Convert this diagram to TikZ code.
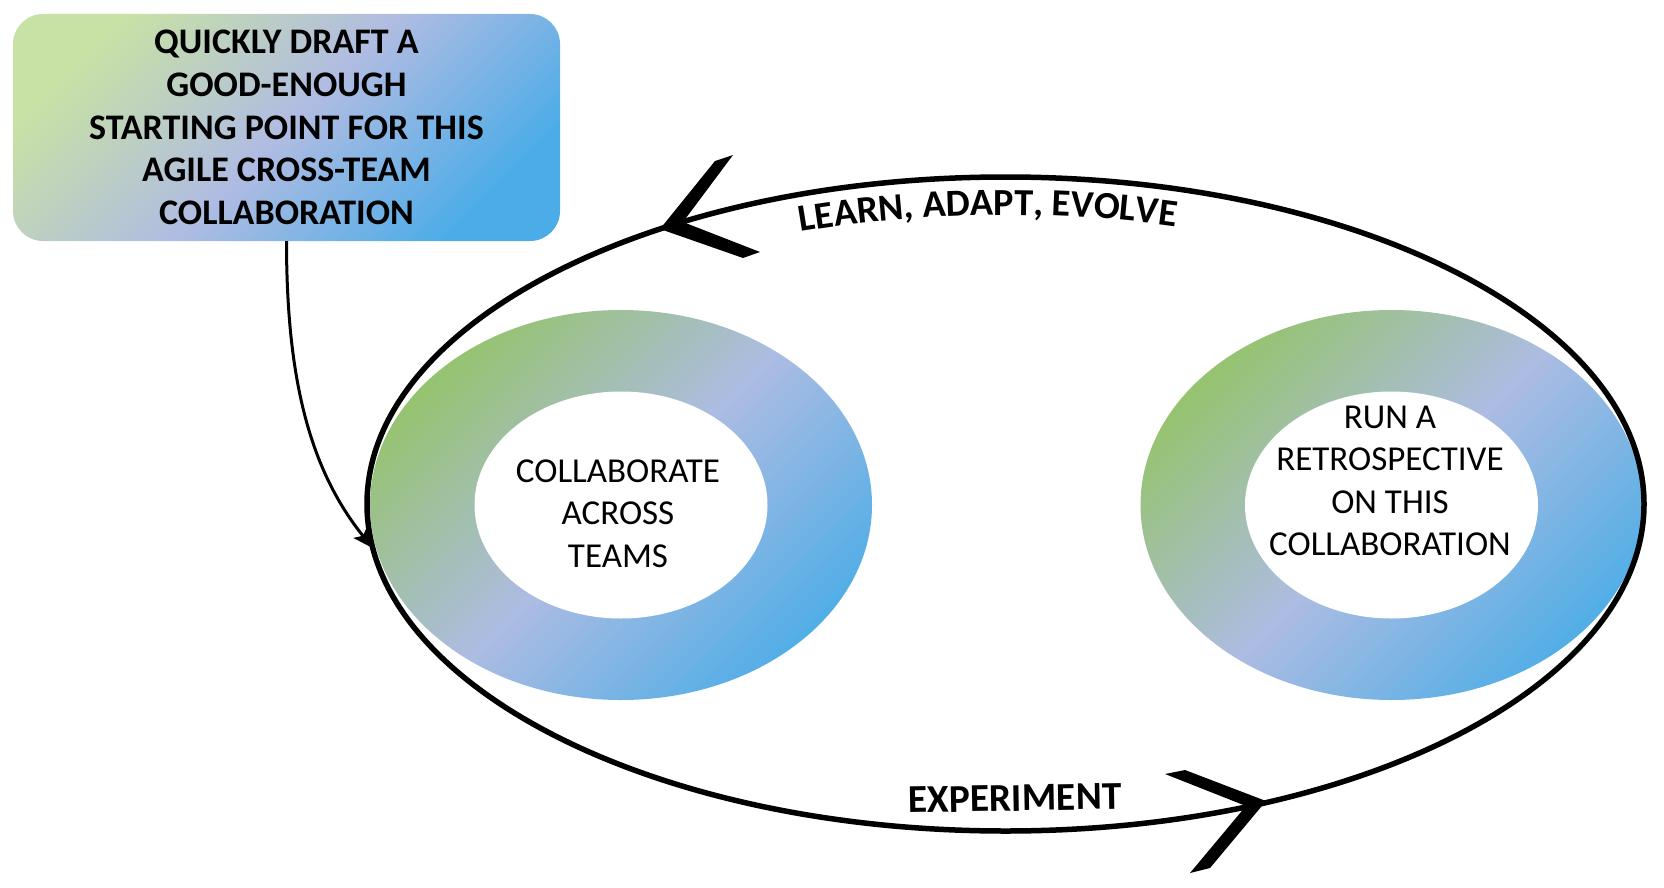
\documentclass[tikz,border=0pt]{standalone}
\usepackage{fontspec}
\setmainfont{Carlito}
\usetikzlibrary{shapes.geometric,arrows.meta,decorations.text}
\definecolor{gA}{RGB}{200,225,165}
\definecolor{gM}{RGB}{176,188,226}
\definecolor{gB}{RGB}{76,172,232}
\definecolor{rA}{RGB}{150,195,112}
\definecolor{rM}{RGB}{173,188,226}
\definecolor{rB}{RGB}{82,174,230}
\newcommand{\boxfont}{\bfseries\fontsize{36}{42.7}\selectfont}
\newcommand{\learnfont}{\bfseries\fontsize{38.3}{44}\selectfont}
\newcommand{\expfont}{\bfseries\fontsize{39.5}{44}\selectfont}
\begin{document}
\begin{tikzpicture}[x=1pt,y=1pt,
  startbox/.style={rounded corners=30pt, minimum width=547pt, minimum height=227pt, inner sep=0pt,
    top color=gA, bottom color=gB, middle color=gM, shading angle=45, align=center,
    font=\boxfont},
  ring/.style={ellipse, minimum width=502pt, minimum height=390pt, inner sep=0pt,
    top color=rA, bottom color=rB, middle color=rM, shading angle=45},
  hole/.style={ellipse, fill=white, minimum width=293pt, minimum height=227pt, inner sep=0pt},
  ringtext/.style={align=center, font=\fontsize{35}{42.5}\selectfont, inner sep=0pt},
  loopline/.style={ellipse, draw, line width=5.5pt, minimum width=1277pt, minimum height=654pt, inner sep=0pt, outer sep=0pt},
  head/.style={fill=black},
  conn/.style={line width=3pt, -{Stealth[length=20pt,width=17pt,inset=4pt]}},
  lbl/.style={font=\expfont, inner sep=0pt}
]
\useasboundingbox (0,0) rectangle (1664,-888);

% start box
\node[startbox] (box) at (286.5,-127.5) {QUICKLY DRAFT A\\GOOD-ENOUGH\\STARTING POINT FOR THIS\\AGILE CROSS-TEAM\\COLLABORATION};

% rings
\node[ring] (ringL) at (621,-505) {};
\node[hole] (holeL) at (621,-505) {};
\node[ring] (ringR) at (1391.5,-505) {};
\node[hole] (holeR) at (1391.5,-505) {};
\node[ringtext] (txtL) at (618,-513.5) {COLLABORATE\\ACROSS\\TEAMS};
\node[ringtext] (txtR) at (1390,-481) {RUN A\\RETROSPECTIVE\\ON THIS\\COLLABORATION};

% big loop
\node[loopline] (loop) at (1005.5,-504) {};

% arrowheads on loop
\fill[head] (660,-229) -- (715,-161) -- (733,-155) -- (683,-222) -- (760,-252) -- (743,-258) -- cycle;
\fill[head] (1266,-801) -- (1185,-770) -- (1165,-774) -- (1246,-806) -- (1190,-873) -- (1210,-868) -- cycle;

% labels
\path[decorate, decoration={text along path, text align=center,
   text={|\learnfont|LEARN{,} ADAPT{,} EVOLVE}}]
   (loop.center) ++(132:610 and 289) arc[start angle=132, end angle=52, x radius=610, y radius=289];
\node[lbl, anchor=base, rotate=1] (exp) at (1015,-811) {EXPERIMENT};

% connector
\draw[conn] (box.south) .. controls (286.5,-380) and (310,-470) .. (loop.184.5);
\end{tikzpicture}
\end{document}
